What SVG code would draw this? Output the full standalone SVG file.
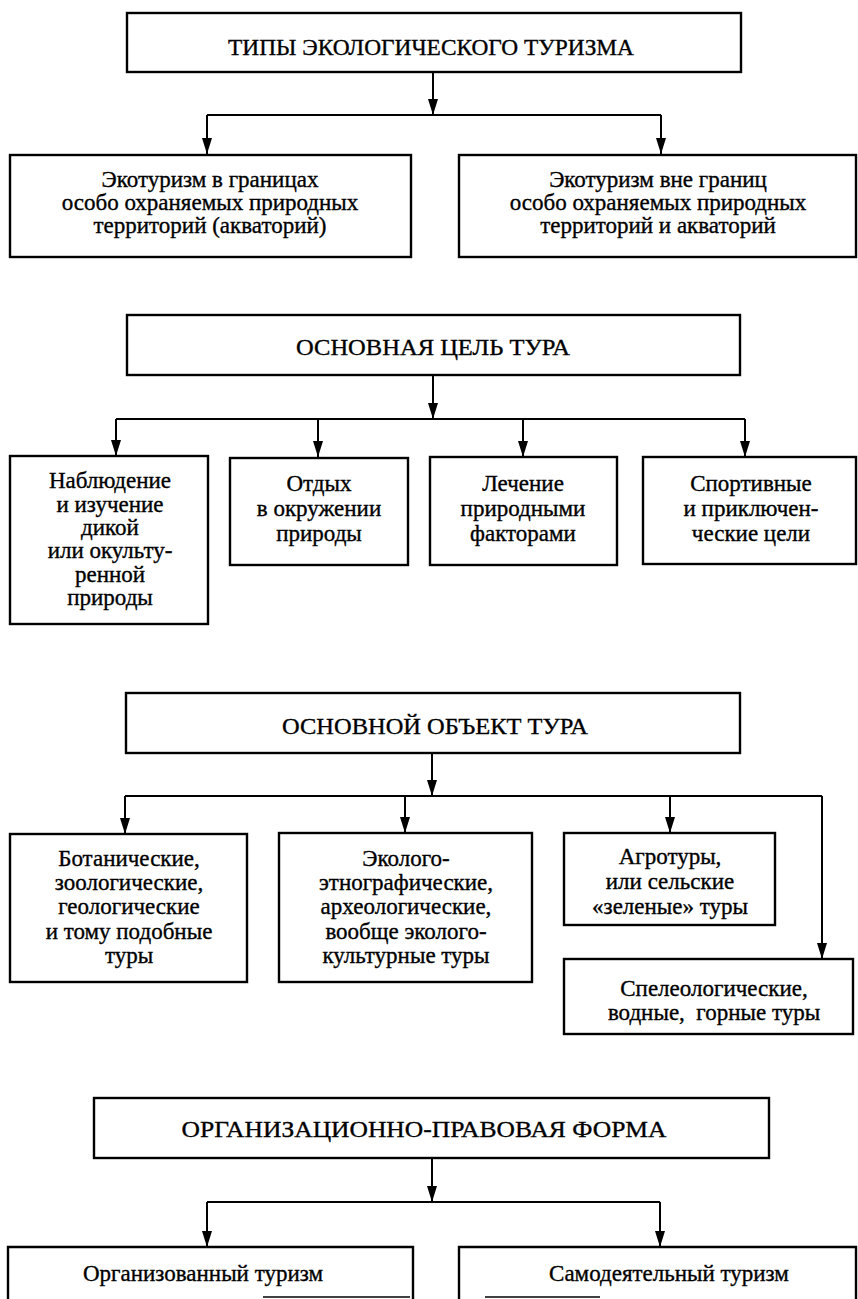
<svg xmlns="http://www.w3.org/2000/svg" width="858" height="1299" viewBox="0 0 858 1299">
<style>
.box{fill:#fff;stroke:#000;stroke-width:2.4}
.frag{stroke:#000;stroke-width:1.6;fill:none}
.t{font-family:"Liberation Serif","Times New Roman",serif;font-size:23px;fill:#000;stroke:#000;stroke-width:0.35;text-anchor:middle}
.h{font-size:24px}
.c{stroke:#000;stroke-width:2;fill:none}
.a{stroke:#000;stroke-width:2;fill:none;marker-end:url(#arr)}
</style>
<defs>
<marker id="arr" viewBox="0 0 16 10" refX="16" refY="5" markerWidth="16" markerHeight="10" markerUnits="userSpaceOnUse" orient="auto">
<path d="M0,0 L16,5 L0,10 Z" fill="#000"/>
</marker>
</defs>
<rect width="858" height="1299" fill="#fff"/>

<g id="connectors">
<line class="a" x1="433" y1="72" x2="433" y2="115"/>
<line class="c" x1="207" y1="115" x2="661" y2="115"/>
<line class="a" x1="207" y1="115" x2="207" y2="154"/>
<line class="a" x1="661" y1="115" x2="661" y2="154"/>

<line class="a" x1="433" y1="375" x2="433" y2="419"/>
<line class="c" x1="116" y1="419" x2="745" y2="419"/>
<line class="a" x1="116" y1="419" x2="116" y2="456"/>
<line class="a" x1="318" y1="419" x2="318" y2="457"/>
<line class="a" x1="523" y1="419" x2="523" y2="457"/>
<line class="a" x1="745" y1="419" x2="745" y2="457"/>

<line class="a" x1="432" y1="753" x2="432" y2="796"/>
<line class="c" x1="125" y1="796" x2="822" y2="796"/>
<line class="a" x1="125" y1="796" x2="125" y2="834"/>
<line class="a" x1="405" y1="796" x2="405" y2="833"/>
<line class="a" x1="670" y1="796" x2="670" y2="833"/>
<line class="a" x1="822" y1="796" x2="822" y2="959"/>

<line class="a" x1="432" y1="1158" x2="432" y2="1202"/>
<line class="c" x1="207" y1="1202" x2="660" y2="1202"/>
<line class="a" x1="207" y1="1202" x2="207" y2="1247"/>
<line class="a" x1="660" y1="1202" x2="660" y2="1247"/>
</g>

<g id="types">
<rect class="box" x="127" y="13" width="614" height="59"/>
<text class="t" x="431" y="55" textLength="406" lengthAdjust="spacingAndGlyphs">ТИПЫ ЭКОЛОГИЧЕСКОГО ТУРИЗМА</text>
</g>

<g id="inside-protected">
<rect class="box" x="10" y="155" width="401" height="102"/>
<text class="t" x="210" y="187">Экотуризм в границах</text>
<text class="t" x="210" y="210">особо охраняемых природных</text>
<text class="t" x="210" y="233">территорий (акваторий)</text>
</g>

<g id="outside-protected">
<rect class="box" x="459" y="155" width="397" height="102"/>
<text class="t" x="658" y="187">Экотуризм вне границ</text>
<text class="t" x="658" y="210">особо охраняемых природных</text>
<text class="t" x="658" y="233">территорий и акваторий</text>
</g>

<g id="goal">
<rect class="box" x="127" y="315" width="613" height="60"/>
<text class="t h" x="433" y="355" textLength="274" lengthAdjust="spacingAndGlyphs">ОСНОВНАЯ ЦЕЛЬ ТУРА</text>
</g>

<g id="observation">
<rect class="box" x="10" y="456" width="198" height="168"/>
<text class="t" x="110" y="488">Наблюдение</text>
<text class="t" x="110" y="512">и изучение</text>
<text class="t" x="110" y="535">дикой</text>
<text class="t" x="110" y="558">или окульту-</text>
<text class="t" x="110" y="582">ренной</text>
<text class="t" x="110" y="605">природы</text>
</g>

<g id="rest">
<rect class="box" x="230" y="458" width="178" height="107"/>
<text class="t" x="319" y="491">Отдых</text>
<text class="t" x="319" y="516">в окружении</text>
<text class="t" x="319" y="541">природы</text>
</g>

<g id="treatment">
<rect class="box" x="430" y="457" width="187" height="108"/>
<text class="t" x="523" y="491">Лечение</text>
<text class="t" x="523" y="516">природными</text>
<text class="t" x="523" y="541">факторами</text>
</g>

<g id="sport">
<rect class="box" x="643" y="457" width="213" height="107"/>
<text class="t" x="751" y="491">Спортивные</text>
<text class="t" x="751" y="516">и приключен-</text>
<text class="t" x="751" y="541">ческие цели</text>
</g>

<g id="object">
<rect class="box" x="126" y="693" width="614" height="60"/>
<text class="t h" x="435" y="734" textLength="306" lengthAdjust="spacingAndGlyphs">ОСНОВНОЙ ОБЪЕКТ ТУРА</text>
</g>

<g id="botanical">
<rect class="box" x="10" y="834" width="237" height="148"/>
<text class="t" x="129" y="866">Ботанические,</text>
<text class="t" x="129" y="890">зоологические,</text>
<text class="t" x="129" y="914">геологические</text>
<text class="t" x="129" y="939">и тому подобные</text>
<text class="t" x="129" y="963">туры</text>
</g>

<g id="eco-cultural">
<rect class="box" x="279" y="833" width="253" height="149"/>
<text class="t" x="406" y="866">Эколого-</text>
<text class="t" x="406" y="890">этнографические,</text>
<text class="t" x="406" y="914">археологические,</text>
<text class="t" x="406" y="939">вообще эколого-</text>
<text class="t" x="406" y="963">культурные туры</text>
</g>

<g id="agro">
<rect class="box" x="564" y="833" width="211" height="92"/>
<text class="t" x="670" y="864">Агротуры,</text>
<text class="t" x="670" y="889">или сельские</text>
<text class="t" x="670" y="914">«зеленые» туры</text>
</g>

<g id="speleo">
<rect class="box" x="564" y="959" width="289" height="75"/>
<text class="t" x="714" y="996">Спелеологические,</text>
<text class="t" x="714" y="1020">водные,&#160; горные туры</text>
</g>

<g id="legal-form">
<rect class="box" x="94" y="1098" width="675" height="60"/>
<text class="t h" x="424" y="1137" textLength="485" lengthAdjust="spacingAndGlyphs">ОРГАНИЗАЦИОННО-ПРАВОВАЯ ФОРМА</text>
</g>

<g id="organized">
<path class="box" d="M8,1310 V1247 H413 V1310"/>
<line class="frag" x1="263" y1="1297" x2="410" y2="1297"/>
<text class="t" x="203" y="1281">Организованный туризм</text>
</g>

<g id="independent">
<path class="box" d="M459,1310 V1247 H856 V1310"/>
<line class="frag" x1="485" y1="1297" x2="600" y2="1297"/>
<text class="t" x="669" y="1281">Самодеятельный туризм</text>
</g>
</svg>
